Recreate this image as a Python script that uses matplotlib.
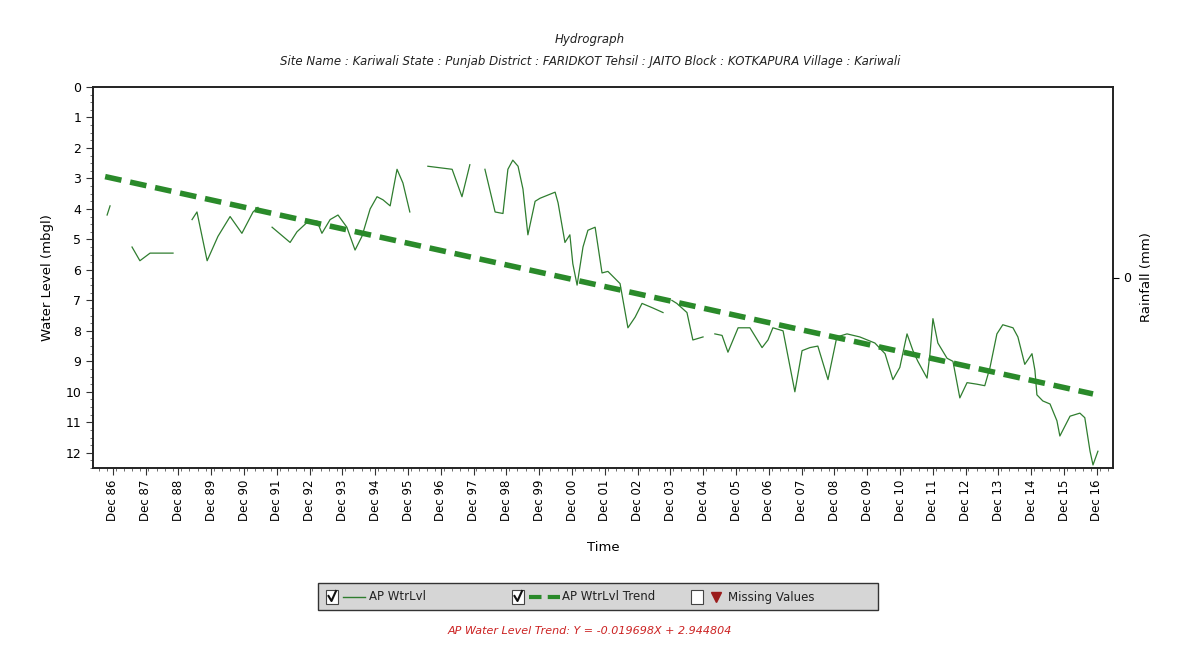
import numpy as np
import matplotlib
matplotlib.use("Agg")
import matplotlib.pyplot as plt
from matplotlib.patches import Rectangle
from matplotlib.lines import Line2D
from matplotlib.ticker import MultipleLocator

# ---------------- data (decimal year, water level mbgl) ----------------
nan = float("nan")
years = [
    1986.74, 1986.83, nan,
    1987.50, 1987.74, 1988.05, 1988.35, 1988.75, nan,
    1989.33, 1989.48, 1989.79, 1990.12, 1990.49, 1990.85, 1991.19, 1991.34, nan,
    1991.77, 1992.32, 1992.53, 1992.83, 1993.14, 1993.29, 1993.54, 1993.78,
    1994.05, 1994.30, 1994.51, 1994.76, 1994.97, 1995.15, 1995.37, 1995.58,
    1995.76, 1995.97, nan,
    1996.52, 1996.89, 1997.26, 1997.56, 1997.80, nan,
    1998.26, 1998.57, 1998.81, 1998.96, 1999.11, 1999.27, 1999.42, 1999.57,
    1999.79, 1999.94, 2000.40, 2000.49, 2000.70, 2000.85, 2000.94, 2001.07,
    2001.25, 2001.40, 2001.62, 2001.71, 2001.83, 2002.01, 2002.38, 2002.47,
    2002.62, 2002.84, 2003.05, 2003.38, 2003.69, nan,
    2003.96, 2004.11, 2004.42, 2004.60, 2004.91, nan,
    2005.27, 2005.49, 2005.67, 2005.98, 2006.34, 2006.71, 2006.89, 2007.04,
    2007.35, 2007.71, 2007.93, 2008.17, 2008.41, 2008.72, 2008.99, 2009.30,
    2009.69, 2010.15, 2010.46, 2010.70, 2010.91, 2011.13, 2011.31, 2011.46,
    2011.74, 2011.83, 2011.92, 2012.07, 2012.35, 2012.53, 2012.74, 2012.96,
    2013.26, 2013.50, 2013.66, 2013.87, 2014.05, 2014.36, 2014.51, 2014.72,
    2014.94, 2015.03, 2015.09, 2015.27, 2015.49, 2015.70, 2015.79, 2016.10,
    2016.40, 2016.55, 2016.71, 2016.80, 2016.95,
]
levels = [
    4.20, 3.90, nan,
    5.25, 5.70, 5.45, 5.45, 5.45, nan,
    4.35, 4.10, 5.70, 4.90, 4.25, 4.80, 4.10, 3.95, nan,
    4.60, 5.10, 4.75, 4.45, 4.40, 4.80, 4.35, 4.20,
    4.60, 5.35, 4.90, 4.00, 3.60, 3.70, 3.90, 2.70,
    3.15, 4.10, nan,
    2.60, 2.65, 2.70, 3.60, 2.55, nan,
    2.70, 4.10, 4.15, 2.70, 2.40, 2.60, 3.35, 4.85,
    3.75, 3.65, 3.45, 3.80, 5.10, 4.85, 5.80, 6.50,
    5.25, 4.70, 4.60, 5.25, 6.10, 6.05, 6.45, 7.00,
    7.90, 7.55, 7.10, 7.25, 7.40, nan,
    7.00, 7.10, 7.40, 8.30, 8.20, nan,
    8.10, 8.15, 8.70, 7.90, 7.90, 8.55, 8.30, 7.90,
    8.00, 10.00, 8.65, 8.55, 8.50, 9.60, 8.20, 8.10,
    8.20, 8.40, 8.75, 9.60, 9.20, 8.10, 8.65, 9.00,
    9.55, 8.75, 7.60, 8.40, 8.90, 9.00, 10.20, 9.70,
    9.75, 9.80, 9.20, 8.10, 7.80, 7.90, 8.20, 9.10,
    8.75, 9.30, 10.10, 10.30, 10.40, 10.95, 11.45, 10.80,
    10.70, 10.85, 11.95, 12.40, 11.95,
]

trend_years = [1986.68, 2016.80]
trend_levels = [2.94, 10.07]

tick_years = list(range(1986, 2017))
tick_labels = ["Dec %02d" % (y % 100) for y in tick_years]

title = "Hydrograph"
subtitle = ("Site Name : Kariwali State : Punjab District : FARIDKOT Tehsil : JAITO "
            "Block : KOTKAPURA Village : Kariwali")
footer = "AP Water Level Trend: Y = -0.019698X + 2.944804"

# ---------------- figure ----------------
W, H = 1180, 662
fig = plt.figure(figsize=(W / 100, H / 100), dpi=100, facecolor="white")

def fx(px):
    return px / W

def fy(py):
    return 1 - py / H

ax = fig.add_axes([fx(93), fy(468), fx(1113) - fx(93), fy(87) - fy(468)])
ax.set_facecolor("white")

ax.plot(years, levels, color="#2f7d2f", lw=0.9, zorder=3)
ax.plot(trend_years, trend_levels, color="#2a8a2a", lw=4.0,
        dashes=(3.0, 1.6), zorder=4, solid_capstyle="butt")

ax.set_ylim(12.5, 0)
ax.set_xlim(1986.31, 2017.41)
ax.yaxis.set_minor_locator(MultipleLocator(0.25))
ax.set_yticks(range(0, 13))
ax.set_yticklabels([str(i) for i in range(0, 13)], fontsize=9)

tick_pos = [y + 11 / 12 for y in tick_years]
ax.set_xticks(tick_pos)
ax.set_xticklabels(tick_labels, rotation=90, fontsize=8.5)
ax.set_xticks(np.arange(1986.5, 2017.4, 0.25), minor=True)

ax.tick_params(axis="both", which="major", direction="out", length=5, width=0.8, color="#333333")
ax.tick_params(axis="both", which="minor", direction="out", length=2.5, width=0.6, color="#555555")
for s in ax.spines.values():
    s.set_linewidth(1.4)
    s.set_color("#222222")

ax.set_ylabel("Water Level (mbgl)", fontsize=9.5, labelpad=8)
ax.set_xlabel("Time", fontsize=9.5, labelpad=14)

ax2 = ax.twinx()
ax2.set_ylim(-1, 1)
ax2.set_yticks([0])
ax2.set_yticklabels(["0"], fontsize=9)
ax2.tick_params(axis="y", direction="out", length=4, width=0.8)
ax2.set_ylabel("Rainfall (mm)", fontsize=9.5, labelpad=6)
for s in ax2.spines.values():
    s.set_visible(False)

fig.text(0.5, fy(40), title, ha="center", va="center", fontsize=8.5, style="italic", color="#222222")
fig.text(0.5, fy(62), subtitle, ha="center", va="center", fontsize=8.5, style="italic", color="#222222")

# ---------------- legend box ----------------
lg = Rectangle((fx(318), fy(610)), fx(878) - fx(318), fy(583) - fy(610),
               transform=fig.transFigure, facecolor="#d6d6d6", edgecolor="#333333", lw=1.0)
fig.add_artist(lg)
ycen = fy(597)
bw = fx(338) - fx(326)
bh = fy(590) - fy(604)

def checkbox(px, checked):
    fig.add_artist(Rectangle((fx(px), fy(604)), bw, bh, transform=fig.transFigure,
                             facecolor="white", edgecolor="#444444", lw=0.8))
    if checked:
        fig.add_artist(Line2D([fx(px + 2.5), fx(px + 5.5), fx(px + 10)],
                              [fy(596), fy(601), fy(591)], transform=fig.transFigure,
                              color="#111111", lw=1.5))

checkbox(326, True)
fig.add_artist(Line2D([fx(343), fx(365)], [ycen, ycen], transform=fig.transFigure,
                      color="#2f7d2f", lw=1.0))
fig.text(fx(369), ycen, "AP WtrLvl", ha="left", va="center", fontsize=8.5, color="#222222")

checkbox(512, True)
fig.add_artist(Line2D([fx(529), fx(560)], [ycen, ycen], transform=fig.transFigure,
                      color="#2a8a2a", lw=3.0, dashes=(3, 1.5)))
fig.text(fx(562), ycen, "AP WtrLvl Trend", ha="left", va="center", fontsize=8.5, color="#222222")

checkbox(691, False)
fig.add_artist(Line2D([fx(716)], [ycen], transform=fig.transFigure, marker="v",
                      markersize=7, color="#9b1c1c", lw=0))
fig.text(fx(728), ycen, "Missing Values", ha="left", va="center", fontsize=8.5, color="#222222")

fig.text(0.5, fy(631), footer, ha="center", va="center", fontsize=8,
         style="italic", color="#cc2222")

fig.savefig("out.png", dpi=100, facecolor="white")
